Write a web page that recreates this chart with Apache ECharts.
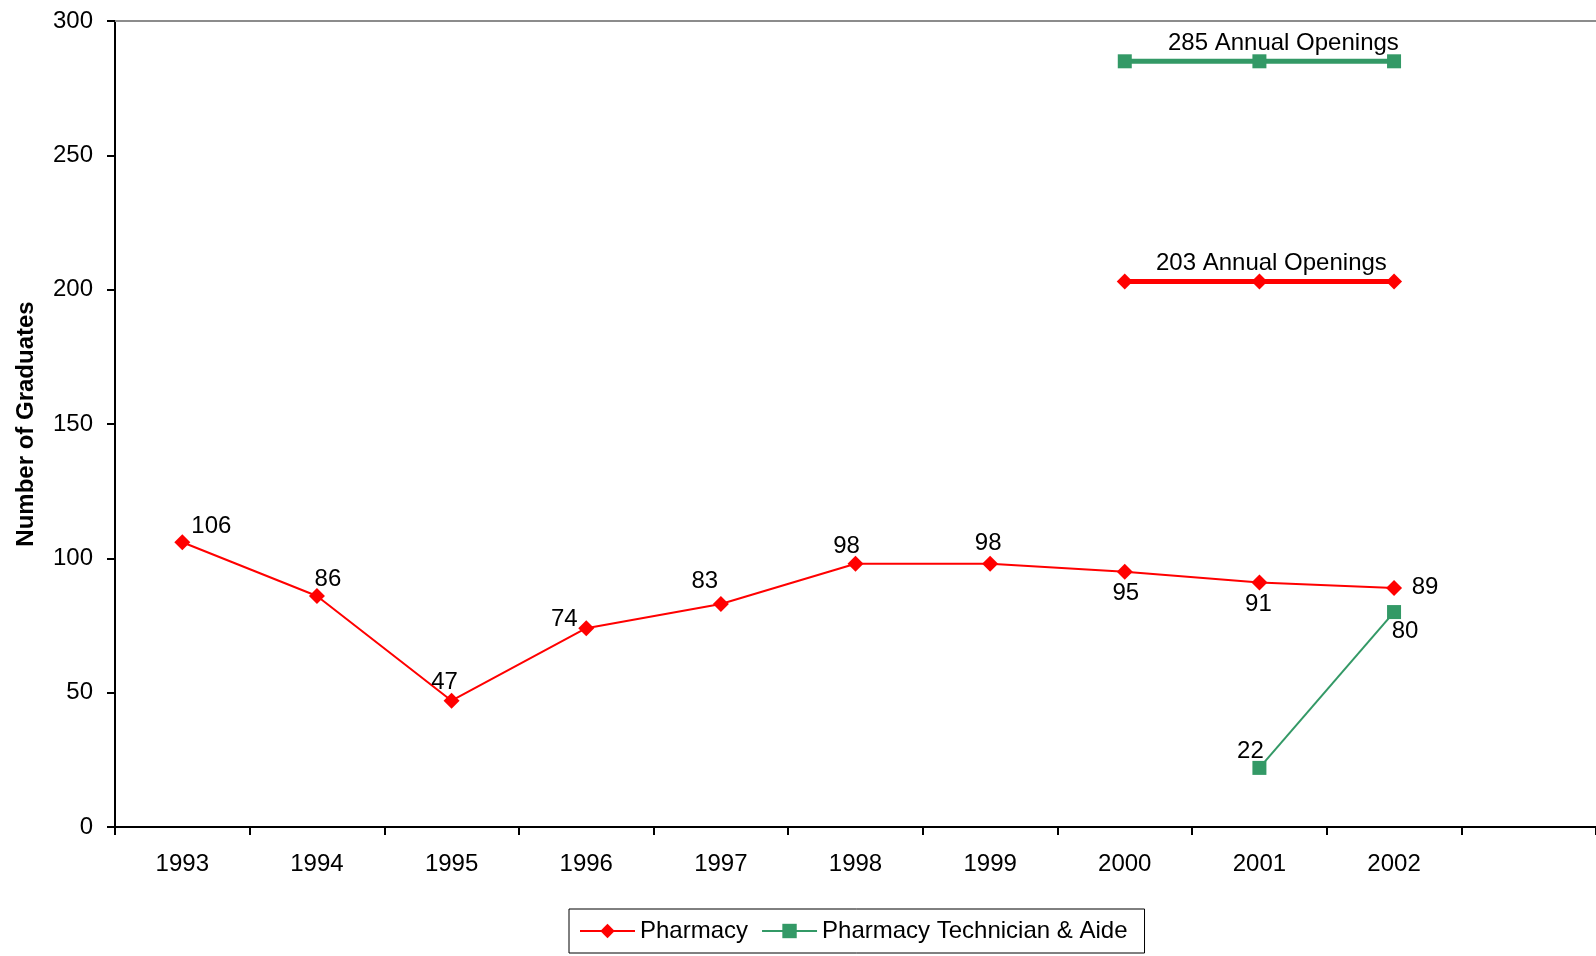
<!DOCTYPE html>
<html>
<head>
<meta charset="utf-8">
<script src="https://cdn.jsdelivr.net/npm/echarts@6/dist/echarts.min.js"></script>
<style>
  html, body { margin: 0; padding: 0; background: #fff; }
  #chart { width: 1596px; height: 956px; }
</style>
</head>
<body>
<div id="chart"></div>
<script>
// Graduates by year (the trailing blank category leaves room on the right)
const years = ['1993', '1994', '1995', '1996', '1997', '1998', '1999', '2000', '2001', '2002', ''];
const pharmacy = [106, 86, 47, 74, 83, 98, 98, 95, 91, 89, null];
const technician = [null, null, null, null, null, null, null, null, 22, 80, null];
// Annual job openings, drawn across 2000-2002
const pharmacyOpenings = [null, null, null, null, null, null, null, 203, 203, 203, null];
const technicianOpenings = [null, null, null, null, null, null, null, 285, 285, 285, null];
const yTicks = { min: 0, max: 300, interval: 50 };

// Where each value label sits relative to its point
const pharmacyLabelOffsets = [[29, -16], [11, -17], [-7, -18], [-22, -9], [-16, -23], [-9, -17], [-2, -20], [1, 22], [-1, 22], [31, -1]];
const technicianLabelOffsets = { 8: [-9, -17], 9: [11, 19] };

const FONT = "'Liberation Sans', Arial, sans-serif";
const FS = 24;
const RED = '#FF0000';
const GREEN = '#339966';

function labelled(values, offsets) {
  return values.map((v, i) => {
    const off = offsets[i];
    if (v == null || !off) return v;
    return {
      value: v,
      label: { show: true, position: 'inside', offset: off, formatter: '{c}' }
    };
  });
}

// Caption on the middle (2001) point of an openings line
function openingsData(values, offset) {
  return values.map((v, i) => {
    if (v == null) return v;
    if (i !== 8) return v;
    return {
      value: v,
      label: { show: true, position: 'inside', offset: offset, formatter: v + ' Annual Openings' }
    };
  });
}

const chart = echarts.init(document.getElementById('chart'), null, { renderer: 'canvas' });

chart.setOption({
  backgroundColor: '#ffffff',
  animation: false,
  textStyle: { fontFamily: FONT },
  grid: { left: 115, right: 0, top: 21, bottom: 129, containLabel: false },
  legend: {
    data: ['Pharmacy', 'Pharmacy Technician & Aide'],
    left: 569,
    top: 909,
    orient: 'horizontal',
    itemWidth: 55,
    itemHeight: 18,
    itemGap: 13,
    padding: [10, 17, 10, 10],
    borderColor: '#000',
    borderWidth: 1,
    textStyle: { fontFamily: FONT, fontSize: FS, color: '#000' }
  },
  xAxis: [
    {
      type: 'category',
      data: years,
      boundaryGap: true,
      axisLine: { lineStyle: { color: '#000', width: 2 } },
      axisTick: { show: true, length: 8, lineStyle: { color: '#000', width: 2 } },
      axisLabel: { fontFamily: FONT, fontSize: FS, color: '#000', margin: 25 },
      splitLine: { show: false }
    },
    {
      type: 'category',
      data: years,
      position: 'top',
      axisLine: { lineStyle: { color: '#8c8c8c', width: 2 } },
      axisTick: { show: false },
      axisLabel: { show: false },
      splitLine: { show: false }
    }
  ],
  yAxis: {
    type: 'value',
    min: yTicks.min,
    max: yTicks.max,
    interval: yTicks.interval,
    name: 'Number of Graduates',
    nameLocation: 'middle',
    nameGap: 77,
    nameRotate: 90,
    nameTextStyle: { fontFamily: FONT, fontSize: FS, fontWeight: 'bold', color: '#000' },
    axisLine: { show: true, lineStyle: { color: '#000', width: 2 } },
    axisTick: { show: true, length: 8, lineStyle: { color: '#000', width: 2 } },
    axisLabel: { fontFamily: FONT, fontSize: FS, color: '#000', margin: 22 },
    splitLine: { show: false }
  },
  series: [
    {
      name: 'Pharmacy',
      type: 'line',
      data: labelled(pharmacy, pharmacyLabelOffsets),
      symbol: 'diamond',
      symbolSize: 16,
      lineStyle: { color: RED, width: 2 },
      itemStyle: { color: RED },
      label: { color: '#000', fontFamily: FONT, fontSize: FS },
      z: 3
    },
    {
      name: 'Pharmacy Technician & Aide',
      type: 'line',
      data: labelled(technician, technicianLabelOffsets),
      symbol: 'rect',
      symbolSize: 14,
      lineStyle: { color: GREEN, width: 2 },
      itemStyle: { color: GREEN },
      label: { color: '#000', fontFamily: FONT, fontSize: FS },
      z: 3
    },
    {
      name: 'Pharmacy Openings',
      type: 'line',
      data: openingsData(pharmacyOpenings, [12, -18]),
      symbol: 'diamond',
      symbolSize: 16,
      lineStyle: { color: RED, width: 5 },
      itemStyle: { color: RED },
      label: { color: '#000', fontFamily: FONT, fontSize: FS },
      z: 3
    },
    {
      name: 'Technician Openings',
      type: 'line',
      data: openingsData(technicianOpenings, [24, -18]),
      symbol: 'rect',
      symbolSize: 14,
      lineStyle: { color: GREEN, width: 5 },
      itemStyle: { color: GREEN },
      label: { color: '#000', fontFamily: FONT, fontSize: FS },
      z: 3
    }
  ]
});
</script>
</body>
</html>
